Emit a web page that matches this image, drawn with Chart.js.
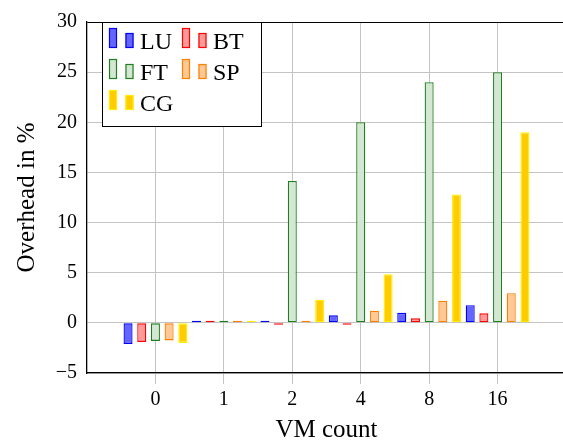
<!DOCTYPE html>
<html>
<head>
<meta charset="utf-8">
<script src="https://cdn.jsdelivr.net/npm/chart.js@4/dist/chart.umd.min.js"></script>
<style>
  html, body { margin: 0; padding: 0; background: #fff; overflow: hidden; }
  #wrap { width: 570px; height: 445px; }
</style>
</head>
<body>
<div id="wrap"><canvas id="chart" width="570" height="445"></canvas></div>
<script>
// VM count groups
const categories = ['0', '1', '2', '4', '8', '16'];

// overhead in % per benchmark
const LU = [-2.1, 0.05, 0.2, 0.75, 1.0, 1.75];
const BT = [-1.9, 0.03, -0.12, -0.1, 0.45, 0.95];
const FT = [-1.8, 0.03, 14.15, 20.0, 24.0, 25.0];
const SP = [-1.75, 0.03, 0.2, 1.2, 2.2, 2.95];
const CG = [-2.0, 0.03, 2.3, 4.85, 12.8, 19.0];

const yTicks = [-5, 0, 5, 10, 15, 20, 25, 30];

const SERIF = "'Liberation Serif', 'Times New Roman', serif";

// one empty slot each side so the axis runs a full group past 0 and 16
const labels = [''].concat(categories, ['']);
const pad = (arr) => [null].concat(arr, [null]);

const series = [
    { label: 'LU', data: LU, fill: '#6464ff', line: '#0000ff' },
    { label: 'BT', data: BT, fill: '#ff9a9a', line: '#ff0000' },
    { label: 'FT', data: FT, fill: '#d3e7d3', line: '#1f7f1f' },
    { label: 'SP', data: SP, fill: '#ffc894', line: '#ff8000' },
    { label: 'CG', data: CG, fill: '#ffcc00', line: '#ffee00' }
];

// legend box drawn inside the plot, two bars per entry like pgfplots
const boxLegend = {
    id: 'boxLegend',
    afterDraw(chart) {
        const ctx = chart.ctx;
        const x0 = 102, y0 = 22, w = 159, h = 104;
        ctx.save();
        ctx.fillStyle = '#fff';
        ctx.fillRect(x0, y0, w, h);
        ctx.strokeStyle = '#000';
        ctx.lineWidth = 1;
        ctx.strokeRect(x0 + 0.5, y0 + 0.5, w, h);
        ctx.font = '24px ' + SERIF;
        ctx.textBaseline = 'alphabetic';
        chart.data.datasets.forEach((ds, i) => {
            const col = i % 2, row = Math.floor(i / 2);
            const bx = 109 + col * 73;
            const base = 48 + row * 31;
            ctx.fillStyle = ds.backgroundColor;
            ctx.strokeStyle = ds.borderColor;
            ctx.lineWidth = 1.2;
            ctx.fillRect(bx, base - 20, 8, 20);
            ctx.strokeRect(bx + 0.5, base - 19.5, 7, 19);
            ctx.fillRect(bx + 16.5, base - 15, 8, 15);
            ctx.strokeRect(bx + 17, base - 14.5, 7, 14);
            ctx.fillStyle = '#000';
            ctx.fillText(ds.label, bx + 31, base + 1);
        });
        ctx.restore();
    }
};

new Chart(document.getElementById('chart'), {
    type: 'bar',
    data: {
        labels: labels,
        datasets: series.map(s => ({
            label: s.label,
            data: pad(s.data),
            backgroundColor: s.fill,
            borderColor: s.line,
            borderWidth: 1.3,
            borderSkipped: false,
            minBarLength: 2,
            categoryPercentage: 1.0,
            barPercentage: 0.66
        }))
    },
    options: {
        responsive: false,
        animation: false,
        layout: { padding: { left: 0, top: 12, right: 2, bottom: 0 } },
        plugins: { legend: { display: false }, tooltip: { enabled: false } },
        scales: {
            x: {
                offset: false,
                afterFit: (scale) => { scale.height = 72; },
                grid: {
                    color: (c) => c.index === 0 ? 'rgba(0,0,0,0)' : '#c4c4c4',
                    tickLength: 11,
                    offset: false
                },
                border: { color: '#000', width: 1.3 },
                ticks: { color: '#000', font: { family: SERIF, size: 20 }, padding: 4, maxRotation: 0, autoSkip: false },
                title: { display: true, text: 'VM count', color: '#000', font: { family: SERIF, size: 25 }, padding: { top: 0, bottom: 0 } }
            },
            y: {
                min: -5,
                max: 30,
                afterFit: (scale) => { scale.width = 87; },
                afterBuildTicks: (scale) => { scale.ticks = yTicks.map(v => ({ value: v })); },
                grid: {
                    color: (c) => c.tick && c.tick.value === 30 ? '#000' : '#c4c4c4',
                    drawTicks: false
                },
                border: { color: '#000', width: 1.3 },
                ticks: {
                    color: '#000',
                    font: { family: SERIF, size: 20 },
                    padding: 10,
                    callback: (v) => v < 0 ? '\u2212' + Math.abs(v) : String(v)
                },
                title: { display: true, text: 'Overhead in %', color: '#000', font: { family: SERIF, size: 25 }, padding: { top: 12, bottom: 0 } }
            }
        }
    },
    plugins: [boxLegend]
});
</script>
</body>
</html>
